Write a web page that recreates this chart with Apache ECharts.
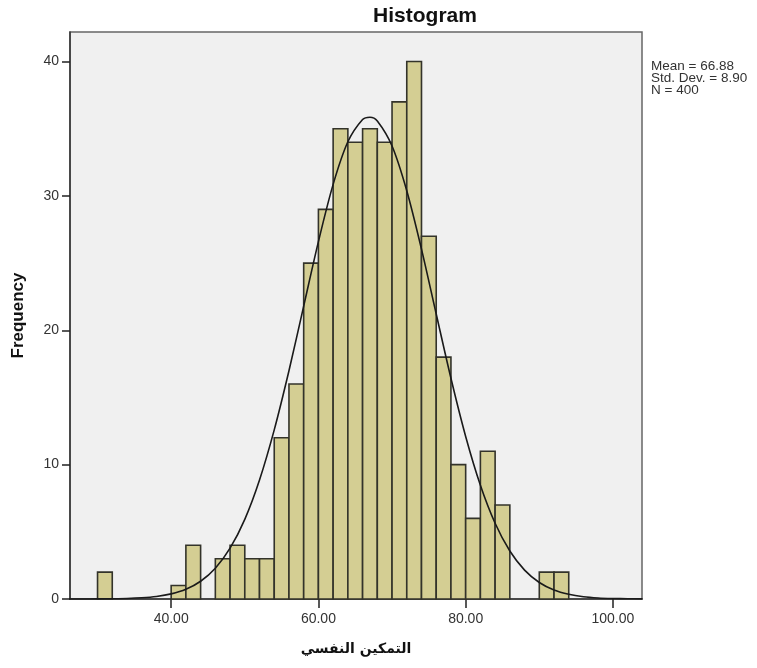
<!DOCTYPE html>
<html>
<head>
<meta charset="utf-8">
<script src="https://cdn.jsdelivr.net/npm/echarts@6/dist/echarts.min.js"></script>
<style>
html,body{margin:0;padding:0;background:#fff;}
#chart{width:757px;height:668px;}
</style>
</head>
<body>
<div id="chart"></div>
<script>
// Histogram bins (start of each 2-unit bin) and their frequencies
const binStarts = [30, 40, 42, 46, 48, 50, 52, 54, 56, 58, 60, 62, 64, 66, 68, 70, 72, 74, 76, 78, 80, 82, 84, 90, 92];
const counts    = [ 2,  1,  4,  3,  4,  3,  3, 12, 16, 25, 29, 35, 34, 35, 34, 37, 40, 27, 18, 10,  6, 11,  7,  2,  2];
const binWidth = 2;

// Normal curve
const curveX = [26, 28, 30, 32, 34, 36, 38, 40, 42, 44, 46, 48, 50, 52, 54, 56, 58, 60, 62, 64, 66, 67, 68, 70, 72, 74, 76, 78, 80, 82, 84, 86, 88, 90, 92, 94, 96, 98, 100, 102, 104];
const curveY = [0, 0, 0.01, 0.02, 0.04, 0.09, 0.19, 0.38, 0.72, 1.32, 2.29, 3.78, 5.93, 8.86, 12.59, 16.99, 21.8, 26.6, 30.86, 34.03, 35.69, 35.86, 35.58, 33.72, 30.39, 26.04, 21.21, 16.43, 12.1, 8.47, 5.64, 3.57, 2.15, 1.23, 0.67, 0.35, 0.17, 0.08, 0.04, 0.02, 0.01];

// Axis ticks
const xTicks = [40, 60, 80, 100];
const yTicks = [0, 10, 20, 30, 40];

// Statistics text
const statLines = ['Mean = 66.88', 'Std. Dev. = 8.90', 'N = 400'];

const chart = echarts.init(document.getElementById('chart'), null, {renderer: 'canvas'});

const barData = binStarts.map((s, i) => [s, s + binWidth, counts[i]]);
const lineData = curveX.map((x, i) => [x, curveY[i]]);

const font = 'Arial, "Liberation Sans", sans-serif';

const option = {
  backgroundColor: '#ffffff',
  animation: false,
  title: {
    text: 'Histogram',
    left: 420,
    top: 1,
    textAlign: 'center',
    textStyle: {fontFamily: font, fontSize: 21, fontWeight: 'bold', color: '#111'}
  },
  grid: {
    left: 70, right: 115, top: 32, bottom: 69,
    show: true,
    backgroundColor: '#f0f0f0',
    borderColor: '#666',
    borderWidth: 1.5
  },
  xAxis: {
    type: 'value',
    min: 26.26,
    max: 103.95,
    name: 'التمكين النفسي',
    nameLocation: 'middle',
    nameGap: 43,
    nameTextStyle: {fontFamily: '"DejaVu Sans", sans-serif', fontSize: 14, fontWeight: 'bold', color: '#111'},
    axisLine: {show: true, lineStyle: {color: '#333', width: 1.5}},
    axisTick: {show: true, customValues: xTicks, length: 9, lineStyle: {color: '#222', width: 1.5}},
    axisLabel: {show: true, customValues: xTicks, margin: 13, fontFamily: font, fontSize: 14, color: '#333',
      formatter: v => v.toFixed(2)},
    splitLine: {show: false}
  },
  yAxis: {
    type: 'value',
    min: 0,
    max: 42.2,
    name: 'Frequency',
    nameLocation: 'middle',
    nameGap: 43,
    nameTextStyle: {fontFamily: font, fontSize: 17, fontWeight: 'bold', color: '#111'},
    axisLine: {show: true, lineStyle: {color: '#333', width: 1.5}},
    axisTick: {show: true, customValues: yTicks, length: 8, lineStyle: {color: '#222', width: 1.5}},
    axisLabel: {show: true, customValues: yTicks, margin: 11, fontFamily: font, fontSize: 14, color: '#333'},
    splitLine: {show: false}
  },
  graphic: statLines.map((t, i) => ({
    type: 'text',
    left: 651,
    top: 59 + i * 12,
    style: {text: t, fontFamily: font, fontSize: 13.5, fill: '#333'}
  })),
  series: [
    {
      type: 'custom',
      data: barData,
      encode: {x: [0, 1], y: 2},
      renderItem: function (params, api) {
        const x0 = api.value(0), x1 = api.value(1), y = api.value(2);
        if (!y) return null;
        const p0 = api.coord([x0, y]);
        const p1 = api.coord([x1, 0]);
        return {
          type: 'rect',
          shape: {x: p0[0], y: p0[1], width: p1[0] - p0[0], height: p1[1] - p0[1]},
          style: {fill: '#d4ce93', stroke: '#33332a', lineWidth: 1.6}
        };
      },
      z: 2
    },
    {
      type: 'line',
      data: lineData,
      smooth: 0.3,
      showSymbol: false,
      symbol: 'none',
      clip: true,
      lineStyle: {color: '#1a1a1a', width: 1.6},
      z: 3
    }
  ]
};
chart.setOption(option);
</script>
</body>
</html>
